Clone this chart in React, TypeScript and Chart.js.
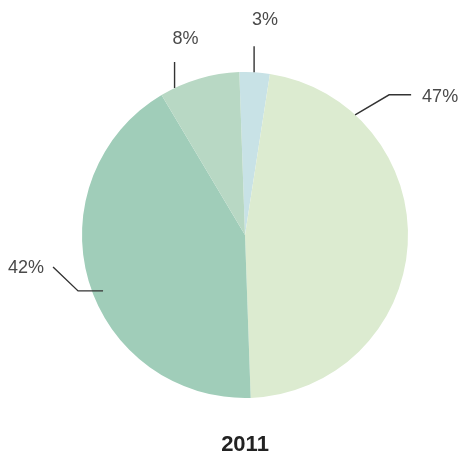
import React, { useEffect, useRef } from "react";
import { Chart, registerables } from "chart.js";

Chart.register(...registerables);

const categories = ["A", "B", "C", "D"];
const values = [3, 47, 42, 8];
const valueLabels = ["3%", "47%", "42%", "8%"];
const sliceColors = ["#c8e2e6", "#dcebd0", "#a0cdb9", "#b8d8c4"];
const chartTitle = "2011";

// leader geometry: anchor angle (deg from top, clockwise), anchor radius fraction,
// polyline offsets relative to anchor, label offset relative to last point
const leaderAngles = [3.2, 42.5, 248.5, 334.4];
const leaderRadius = [1.0, 1.0, 0.936, 1.0];
const leaderPaths: number[][][] = [
  [[0, -26]],
  [[34, -20], [56, -20]],
  [[-25, 0], [-50, -24]],
  [[0, -26]],
];
const labelOffsets: number[][] = [
  [11, -26],
  [29, 2],
  [-27, 1],
  [11, -23],
];

const leaderPlugin = {
  id: "leaders",
  afterDraw(chart: any) {
    const ctx = chart.ctx;
    const meta = chart.getDatasetMeta(0);
    ctx.save();
    meta.data.forEach((arc: any, i: number) => {
      const { x, y, outerRadius } = arc.getProps(["x", "y", "outerRadius"], true);
      const a = (leaderAngles[i] * Math.PI) / 180;
      const r = outerRadius * leaderRadius[i];
      const ax = x + r * Math.sin(a);
      const ay = y - r * Math.cos(a);
      ctx.beginPath();
      ctx.moveTo(ax, ay);
      let lx = ax,
        ly = ay;
      leaderPaths[i].forEach((p) => {
        lx = ax + p[0];
        ly = ay + p[1];
        ctx.lineTo(lx, ly);
      });
      ctx.strokeStyle = "#333333";
      ctx.lineWidth = 1.4;
      ctx.stroke();
      ctx.fillStyle = "#4a4a4a";
      ctx.font = "18px 'Liberation Sans', Arial, sans-serif";
      ctx.textAlign = "center";
      ctx.textBaseline = "middle";
      ctx.fillText(valueLabels[i], lx + labelOffsets[i][0], ly + labelOffsets[i][1]);
    });
    // title
    ctx.fillStyle = "#222222";
    ctx.font = "bold 22px 'Liberation Sans', Arial, sans-serif";
    ctx.textAlign = "center";
    ctx.textBaseline = "middle";
    const cx = (chart.chartArea.left + chart.chartArea.right) / 2;
    ctx.fillText(chartTitle, cx, chart.chartArea.bottom + 47);
    ctx.restore();
  },
};

export default function App() {
  const ref = useRef<HTMLCanvasElement>(null);
  useEffect(() => {
    if (!ref.current) return;
    const chart = new Chart(ref.current, {
      type: "pie",
      data: {
        labels: categories,
        datasets: [
          {
            data: values,
            backgroundColor: sliceColors,
            borderWidth: 0,
          },
        ],
      },
      options: {
        responsive: false,
        animation: false,
        devicePixelRatio: 1,
        rotation: -2,
        layout: { padding: { left: 82, right: 52, top: 72, bottom: 58 } },
        plugins: {
          legend: { display: false },
          tooltip: { enabled: false },
          title: { display: false },
        },
      },
      plugins: [leaderPlugin],
    });
    return () => chart.destroy();
  }, []);
  return (
    <div style={{ position: "fixed", left: 0, top: 0, width: 460, height: 456, background: "#fff" }}>
      <canvas ref={ref} width={460} height={456} style={{ display: "block" }} />
    </div>
  );
}
